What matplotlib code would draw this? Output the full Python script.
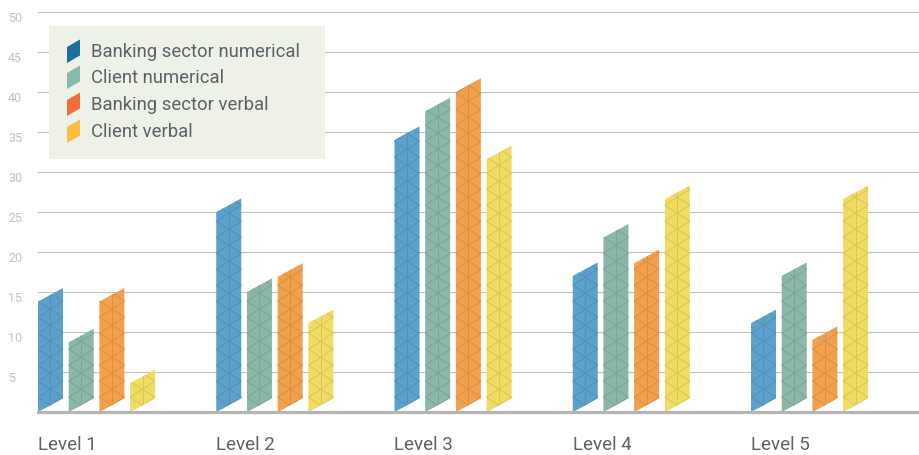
import numpy as np
import matplotlib.pyplot as plt
from matplotlib.patches import Polygon, Rectangle
from matplotlib.colors import to_rgb

plt.rcParams['font.family'] = ['Roboto', 'DejaVu Sans']

levels = ['Level 1', 'Level 2', 'Level 3', 'Level 4', 'Level 5']
series = ['Banking sector numerical', 'Client numerical',
          'Banking sector verbal', 'Client verbal']
banking_numerical = [13.8, 25.0, 34.0, 17.0, 11.1]
client_numerical = [8.7, 15.0, 37.6, 21.8, 17.0]
banking_verbal = [13.8, 16.9, 40.0, 18.6, 9.0]
client_verbal = [3.6, 11.1, 31.6, 26.6, 26.6]
values = [banking_numerical, client_numerical, banking_verbal, client_verbal]

bar_colors = ['#5ca1cb', '#8ab7a6', '#f2a04c', '#f0dc62']
key_colors = ['#1b6f9c', '#88baab', '#f26e37', '#fbbf3d']

yticks = list(range(5, 55, 5))

# geometry (x in group units, y in data units)
offset = 0.1722
width = 0.1402
slant = 1.7
period = 2.0

fig = plt.figure(figsize=(9.2, 4.55), dpi=100)
ax = fig.add_axes([38 / 920, 43 / 455, 882 / 920, 400 / 455])
ax.set_xlim(0, 882 / 178.25)
ax.set_ylim(0, 50)
ax.set_axis_off()

for v in yticks:
    ax.axhline(v, color='#c2c2c2', lw=0.8, zorder=1)
    ax.text(-30 / 882, v - 1.25, str(v), transform=ax.get_yaxis_transform(),
            ha='left', va='baseline', fontsize=9, color='#c0c0c0')
ax.axhline(0, color='#b5b5b5', lw=2.3, zorder=4, clip_on=False)


def darker(c, f=0.9):
    r, g, b = to_rgb(c)
    return (r * f, g * f, b * f)


for i, lev in enumerate(levels):
    for j, vals in enumerate(values):
        h = vals[i]
        x0 = i + j * offset
        poly = Polygon([(x0, 0), (x0 + width, slant), (x0 + width, slant + h),
                        (x0, h)], closed=True, facecolor=bar_colors[j],
                       edgecolor='none', zorder=2)
        ax.add_patch(poly)
        # triangle lattice, crossing at the bottom centre of the bar
        lc = darker(bar_colors[j])
        xc = x0 + width / 2
        yc = slant / 2
        ks = np.arange(-2, int((h + slant) / period) + 3)
        xs = np.array([x0 - 0.01, x0 + width + 0.01])
        for k in ks:
            for sgn in (1, -1):
                ys = yc + k * period + sgn * (period / width) * (xs - xc)
                ln, = ax.plot(xs, ys, color=lc, lw=0.7, zorder=3)
                ln.set_clip_path(poly)
        ln, = ax.plot([xc, xc], [0, h + slant], color=lc, lw=0.7, zorder=3)
        ln.set_clip_path(poly)
    ax.text(i, -38 / 400 * 50, lev, ha='left', va='baseline', fontsize=13.5,
            color='#5d6267', clip_on=False)

# key box
lg = fig.add_axes([49 / 920, (455 - 159) / 455, 276 / 920, 133 / 455])
lg.set_xlim(0, 276)
lg.set_ylim(133, 0)
lg.set_axis_off()
lg.add_patch(Rectangle((0, 0), 276, 133, facecolor='#eef1e7', edgecolor='none'))
baselines = [31, 57, 84, 111]
for name, col, b in zip(series, key_colors, baselines):
    c = b - 5.5
    lg.add_patch(Polygon([(18, c + 11.5), (31, c + 4), (31, c - 12),
                          (18, c - 4.5)], closed=True, facecolor=col,
                         edgecolor='none'))
    lg.text(42, b, name, ha='left', va='baseline', fontsize=13.3,
            color='#5d6267')

fig.savefig('out.png', dpi=100)
